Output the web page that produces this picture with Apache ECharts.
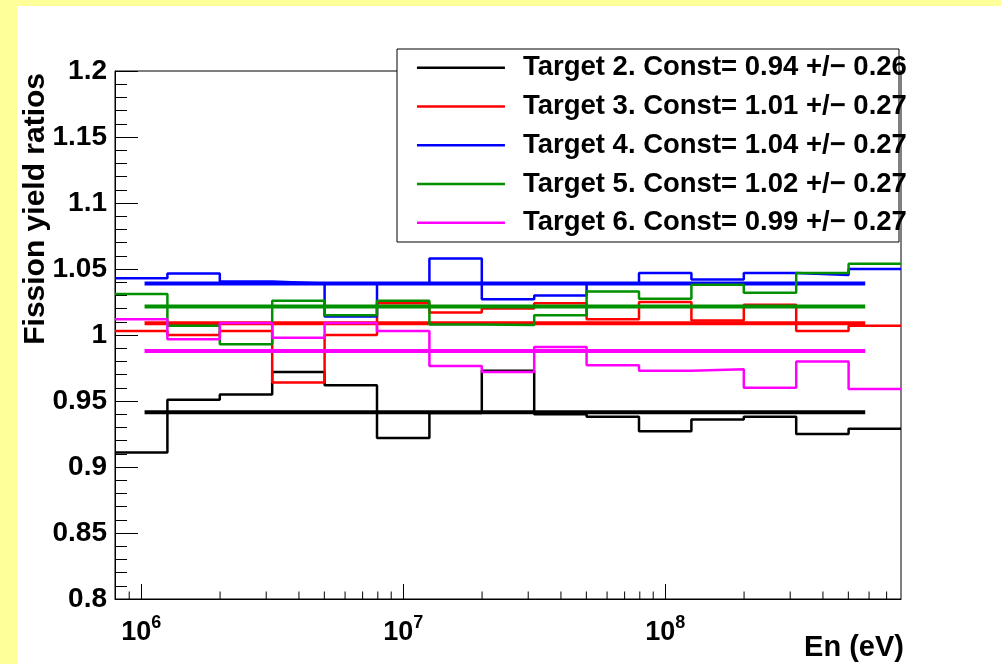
<!DOCTYPE html>
<html><head><meta charset="utf-8">
<script src="https://cdn.jsdelivr.net/npm/echarts@6/dist/echarts.min.js"></script>
<style>html,body{margin:0;padding:0;background:#ffff99;}#c{width:1001px;height:664px;}</style>
</head><body><div id="c"></div>
<script>
// ---- data ----
const binEdges = [794328, 1258925, 1995262, 3162278, 5011872, 7943282, 12589254, 19952623,
  31622777, 50118723, 79432823, 125892541, 199526231, 316227766, 501187234, 794328235];
const target2 = [0.911, 0.951, 0.955, 0.972, 0.962, 0.922, 0.941, 0.973, 0.940, 0.938, 0.927, 0.936, 0.938, 0.925, 0.929];
const target3 = [1.003, 1.000, 1.003, 0.964, 1.000, 1.024, 1.017, 1.020, 1.024, 1.012, 1.025, 1.011, 1.023, 1.003, 1.007];
const target4 = [1.043, 1.0465, 1.0405, 1.039, 1.014, 1.039, 1.058, 1.027, 1.030, 1.039, 1.047, 1.042, 1.047, 1.0455, 1.050];
const target5 = [1.031, 1.007, 0.993, 1.026, 1.015, 1.026, 1.008, 1.0075, 1.015, 1.033, 1.0275, 1.038, 1.032, 1.047, 1.054];
const target6 = [1.012, 0.9967, 1.009, 0.998, 1.009, 1.003, 0.9765, 0.972, 0.991, 0.977, 0.973, 0.974, 0.960, 0.980, 0.959];
const fitConst = [0.9414, 1.0089, 1.0391, 1.0215, 0.9879];
const fitRange = [1.03e6, 5.8e8];
const seriesNames = [
  'Target 2. Const= 0.94 +/\u2212 0.26',
  'Target 3. Const= 1.01 +/\u2212 0.27',
  'Target 4. Const= 1.04 +/\u2212 0.27',
  'Target 5. Const= 1.02 +/\u2212 0.27',
  'Target 6. Const= 0.99 +/\u2212 0.27'
];
const seriesColors = ['#000000', '#ff0000', '#0000ff', '#009000', '#ff00ff'];
const xMin = 794328.2, xMax = 794328234.7;
const yMin = 0.8, yMax = 1.2, yStep = 0.05;
const xMajorExponents = [6, 7, 8];
const xMinorTicks = [9e5, 2e6, 3e6, 4e6, 5e6, 6e6, 7e6, 8e6, 9e6, 2e7, 3e7, 4e7, 5e7, 6e7, 7e7, 8e7, 9e7,
  2e8, 3e8, 4e8, 5e8, 6e8, 7e8];
const xTitle = 'En (eV)';
const yTitle = 'Fission yield ratios';

// ---- chart ----
const FONT = '"Liberation Sans", Arial, Helvetica, sans-serif';
const histograms = [target2, target3, target4, target5, target6];
const series = [];
histograms.forEach((vals, k) => {
  series.push({
    type: 'line', name: seriesNames[k], step: 'end', symbol: 'none', silent: true,
    color: seriesColors[k],
    lineStyle: { color: seriesColors[k], width: 2.5 },
    data: binEdges.map((e, i) => [e, vals[Math.min(i, vals.length - 1)]]),
    animation: false
  });
  series.push({
    type: 'line', name: seriesNames[k], symbol: 'none', silent: true,
    color: seriesColors[k],
    lineStyle: { color: seriesColors[k], width: 4 },
    data: [[fitRange[0], fitConst[k]], [fitRange[1], fitConst[k]]],
    animation: false
  });
});
series.push({
  type: 'custom', silent: true, animation: false, z: 5,
  data: xMinorTicks.map(v => [v, yMin]),
  renderItem: (params, api) => {
    const p = api.coord([api.value(0), api.value(1)]);
    return { type: 'line', shape: { x1: p[0], y1: p[1], x2: p[0], y2: p[1] - 7.5 },
      style: { stroke: '#000', lineWidth: 1 } };
  }
});

const chart = echarts.init(document.getElementById('c'), null, { renderer: 'canvas' });
chart.setOption({
  backgroundColor: '#ffff99',
  animation: false,
  grid: { left: 115, top: 71, width: 786, height: 528, show: true, backgroundColor: '#ffffff',
    borderColor: '#000', borderWidth: 1, containLabel: false, outerBoundsMode: 'none' },
  xAxis: {
    type: 'log', logBase: 10, min: xMin, max: xMax,
    axisLine: { show: true, lineStyle: { color: '#000', width: 1 } },
    axisTick: { show: true, inside: true, length: 15, lineStyle: { color: '#000', width: 1 } },
    splitLine: { show: false },
    axisLabel: {
      show: true, showMinLabel: false, showMaxLabel: false, margin: 15,
      formatter: v => {
        const l = Math.log10(v), e = Math.round(l);
        if (Math.abs(l - e) > 1e-6 || xMajorExponents.indexOf(e) < 0) return '';
        return '{b|10}{s|' + e + '}';
      },
      rich: {
        b: { fontSize: 27, fontWeight: 'bold', fontFamily: FONT, color: '#000', lineHeight: 32, verticalAlign: 'bottom' },
        s: { fontSize: 18, fontWeight: 'bold', fontFamily: FONT, color: '#000', lineHeight: 18, verticalAlign: 'top' }
      }
    }
  },
  yAxis: {
    type: 'value', min: yMin, max: yMax, interval: yStep,
    axisLine: { show: true, lineStyle: { color: '#000', width: 1 } },
    axisTick: { show: true, inside: true, length: 23, lineStyle: { color: '#000', width: 1 } },
    minorTick: { show: true, splitNumber: 5, length: 12, lineStyle: { color: '#000', width: 1 } },
    splitLine: { show: false },
    axisLabel: { margin: 8, fontSize: 28, fontWeight: 'bold', fontFamily: FONT, color: '#000',
      formatter: v => String(+v.toFixed(2)) }
  },
  legend: {
    orient: 'vertical', left: 415.7, top: 52.7, padding: 0,
    itemWidth: 88, itemHeight: 14, itemGap: 8.75, selectedMode: false, z: 20,
    data: seriesNames,
    itemStyle: { color: 'transparent', borderColor: 'transparent', borderWidth: 0, opacity: 0 },
    lineStyle: { width: 2.5 },
    textStyle: { fontSize: 27.5, fontWeight: 'bold', fontFamily: FONT, color: '#000', lineHeight: 30,
      padding: [0, 0, 0, 13] }
  },
  graphic: [
    { type: 'rect', z: -10, silent: true, shape: { x: 17, y: 6, width: 990, height: 664 },
      style: { fill: '#ffffff' } },
    { type: 'rect', z: 10, silent: true, shape: { x: 397, y: 49, width: 502, height: 193 },
      style: { fill: '#ffffff', stroke: '#000', lineWidth: 1 } },
    { type: 'text', z: 10, silent: true, x: 36, y: 73, rotation: Math.PI / 2,
      style: { text: yTitle, fontSize: 30, fontWeight: 'bold', fontFamily: FONT, fill: '#000',
        align: 'right', verticalAlign: 'middle' } },
    { type: 'text', z: 10, silent: true, x: 904, y: 648,
      style: { text: xTitle, fontSize: 29, fontWeight: 'bold', fontFamily: FONT, fill: '#000',
        align: 'right', verticalAlign: 'middle' } }
  ],
  series: series
});
</script></body></html>
